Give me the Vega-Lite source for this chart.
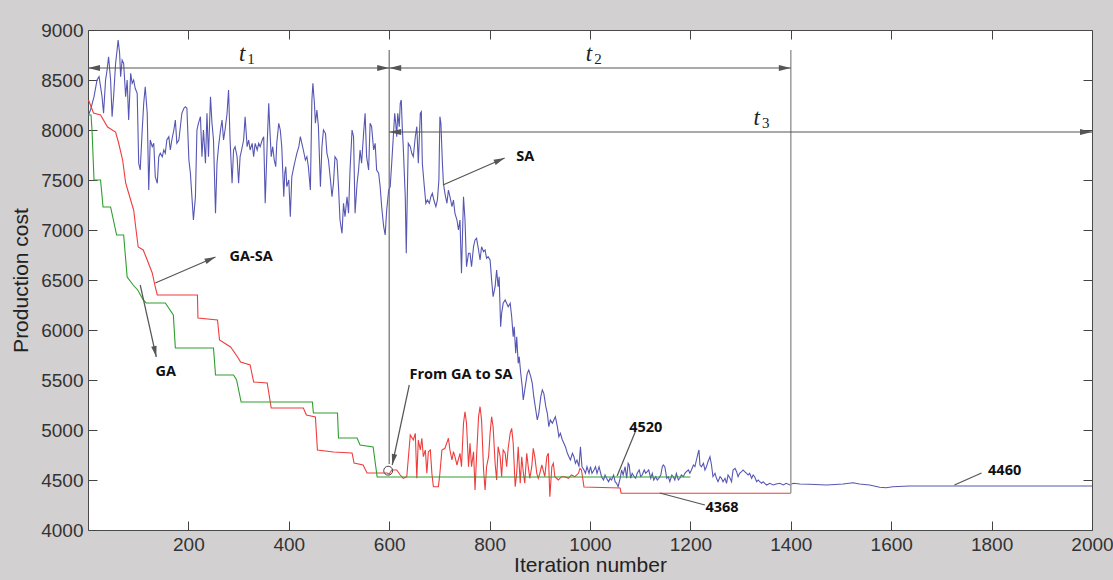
{
"$schema":"https://vega.github.io/schema/vega-lite/v6.json",
"width":1004,"height":500,
"autosize":"none",
"padding":{"left":88,"top":30,"right":21,"bottom":50},
"background":"#d2d0d0",
"config":{"view":{"fill":"white","stroke":"#4a4a4a","strokeWidth":1}},
"datasets":{
"curves":[
{"series":"SA","x":1,"y":8150},{"series":"SA","x":5,"y":8200},{"series":"SA","x":12,"y":8333},{"series":"SA","x":18,"y":8500},{"series":"SA","x":22,"y":8533},{"series":"SA","x":25,"y":8433},{"series":"SA","x":28,"y":8333},{"series":"SA","x":31,"y":8167},{"series":"SA","x":35,"y":8500},{"series":"SA","x":38,"y":8600},{"series":"SA","x":41,"y":8733},{"series":"SA","x":45,"y":8500},{"series":"SA","x":48,"y":8133},{"series":"SA","x":51,"y":8333},{"series":"SA","x":55,"y":8667},{"series":"SA","x":58,"y":8800},{"series":"SA","x":60,"y":8900},{"series":"SA","x":63,"y":8767},{"series":"SA","x":65,"y":8533},{"series":"SA","x":68,"y":8700},{"series":"SA","x":71,"y":8667},{"series":"SA","x":75,"y":8333},{"series":"SA","x":78,"y":8500},{"series":"SA","x":81,"y":8100},{"series":"SA","x":85,"y":8567},{"series":"SA","x":88,"y":8467},{"series":"SA","x":91,"y":8500},{"series":"SA","x":94,"y":8417},{"series":"SA","x":98,"y":8367},{"series":"SA","x":101,"y":7667},{"series":"SA","x":104,"y":7600},{"series":"SA","x":108,"y":8000},{"series":"SA","x":111,"y":8267},{"series":"SA","x":114,"y":8433},{"series":"SA","x":118,"y":8167},{"series":"SA","x":121,"y":7400},{"series":"SA","x":124,"y":7900},{"series":"SA","x":128,"y":7833},{"series":"SA","x":131,"y":7867},{"series":"SA","x":134,"y":7533},{"series":"SA","x":138,"y":7467},{"series":"SA","x":141,"y":7733},{"series":"SA","x":144,"y":7767},{"series":"SA","x":148,"y":7733},{"series":"SA","x":151,"y":7800},{"series":"SA","x":154,"y":7767},{"series":"SA","x":157,"y":7900},{"series":"SA","x":161,"y":7933},{"series":"SA","x":164,"y":7800},{"series":"SA","x":167,"y":7900},{"series":"SA","x":171,"y":8000},{"series":"SA","x":174,"y":8100},{"series":"SA","x":177,"y":7867},{"series":"SA","x":181,"y":7900},{"series":"SA","x":184,"y":8033},{"series":"SA","x":187,"y":8167},{"series":"SA","x":191,"y":8217},{"series":"SA","x":194,"y":8233},{"series":"SA","x":197,"y":8217},{"series":"SA","x":201,"y":7700},{"series":"SA","x":204,"y":7567},{"series":"SA","x":207,"y":7333},{"series":"SA","x":210,"y":7100},{"series":"SA","x":214,"y":7333},{"series":"SA","x":217,"y":8000},{"series":"SA","x":220,"y":8067},{"series":"SA","x":224,"y":8133},{"series":"SA","x":227,"y":7733},{"series":"SA","x":230,"y":8000},{"series":"SA","x":234,"y":7667},{"series":"SA","x":237,"y":8167},{"series":"SA","x":240,"y":7733},{"series":"SA","x":244,"y":8333},{"series":"SA","x":247,"y":8067},{"series":"SA","x":250,"y":7900},{"series":"SA","x":254,"y":7167},{"series":"SA","x":257,"y":7667},{"series":"SA","x":260,"y":7833},{"series":"SA","x":264,"y":8000},{"series":"SA","x":267,"y":8100},{"series":"SA","x":270,"y":7900},{"series":"SA","x":273,"y":8000},{"series":"SA","x":277,"y":8167},{"series":"SA","x":280,"y":8400},{"series":"SA","x":283,"y":7900},{"series":"SA","x":287,"y":7467},{"series":"SA","x":290,"y":7800},{"series":"SA","x":293,"y":7833},{"series":"SA","x":297,"y":7733},{"series":"SA","x":300,"y":7467},{"series":"SA","x":303,"y":7733},{"series":"SA","x":306,"y":7800},{"series":"SA","x":310,"y":7900},{"series":"SA","x":313,"y":8133},{"series":"SA","x":317,"y":7833},{"series":"SA","x":320,"y":7900},{"series":"SA","x":323,"y":7800},{"series":"SA","x":327,"y":7867},{"series":"SA","x":330,"y":7733},{"series":"SA","x":333,"y":7867},{"series":"SA","x":337,"y":7800},{"series":"SA","x":340,"y":7867},{"series":"SA","x":343,"y":7833},{"series":"SA","x":347,"y":7900},{"series":"SA","x":350,"y":7933},{"series":"SA","x":353,"y":7267},{"series":"SA","x":357,"y":7867},{"series":"SA","x":360,"y":8267},{"series":"SA","x":362,"y":8033},{"series":"SA","x":365,"y":7733},{"series":"SA","x":368,"y":7833},{"series":"SA","x":371,"y":7700},{"series":"SA","x":374,"y":7633},{"series":"SA","x":376,"y":7867},{"series":"SA","x":380,"y":8067},{"series":"SA","x":383,"y":8000},{"series":"SA","x":386,"y":7833},{"series":"SA","x":390,"y":7333},{"series":"SA","x":392,"y":7567},{"series":"SA","x":394,"y":7633},{"series":"SA","x":396,"y":7433},{"series":"SA","x":400,"y":7500},{"series":"SA","x":403,"y":7133},{"series":"SA","x":406,"y":7533},{"series":"SA","x":410,"y":7633},{"series":"SA","x":413,"y":7700},{"series":"SA","x":416,"y":7767},{"series":"SA","x":420,"y":7833},{"series":"SA","x":423,"y":7933},{"series":"SA","x":426,"y":7867},{"series":"SA","x":429,"y":7800},{"series":"SA","x":433,"y":7700},{"series":"SA","x":436,"y":7733},{"series":"SA","x":439,"y":7633},{"series":"SA","x":443,"y":7400},{"series":"SA","x":446,"y":8300},{"series":"SA","x":448,"y":8467},{"series":"SA","x":451,"y":8267},{"series":"SA","x":453,"y":8067},{"series":"SA","x":456,"y":8200},{"series":"SA","x":459,"y":8033},{"series":"SA","x":463,"y":7433},{"series":"SA","x":466,"y":7833},{"series":"SA","x":469,"y":8000},{"series":"SA","x":473,"y":7967},{"series":"SA","x":476,"y":7767},{"series":"SA","x":479,"y":7700},{"series":"SA","x":483,"y":7500},{"series":"SA","x":486,"y":7333},{"series":"SA","x":489,"y":7467},{"series":"SA","x":492,"y":7733},{"series":"SA","x":496,"y":7700},{"series":"SA","x":499,"y":7433},{"series":"SA","x":502,"y":7100},{"series":"SA","x":506,"y":6967},{"series":"SA","x":509,"y":7267},{"series":"SA","x":512,"y":7133},{"series":"SA","x":516,"y":7333},{"series":"SA","x":519,"y":7167},{"series":"SA","x":522,"y":7600},{"series":"SA","x":526,"y":8000},{"series":"SA","x":529,"y":7933},{"series":"SA","x":532,"y":7167},{"series":"SA","x":536,"y":7467},{"series":"SA","x":539,"y":7600},{"series":"SA","x":542,"y":7800},{"series":"SA","x":545,"y":7667},{"series":"SA","x":549,"y":7967},{"series":"SA","x":552,"y":8167},{"series":"SA","x":555,"y":7733},{"series":"SA","x":559,"y":7600},{"series":"SA","x":562,"y":8067},{"series":"SA","x":565,"y":8033},{"series":"SA","x":569,"y":7800},{"series":"SA","x":572,"y":7867},{"series":"SA","x":575,"y":7600},{"series":"SA","x":579,"y":7567},{"series":"SA","x":582,"y":7433},{"series":"SA","x":585,"y":7233},{"series":"SA","x":589,"y":7033},{"series":"SA","x":592,"y":6950},{"series":"SA","x":595,"y":7200},{"series":"SA","x":599,"y":7400},{"series":"SA","x":602,"y":7433},{"series":"SA","x":605,"y":7667},{"series":"SA","x":609,"y":8000},{"series":"SA","x":611,"y":8167},{"series":"SA","x":613,"y":8067},{"series":"SA","x":615,"y":7933},{"series":"SA","x":617,"y":8167},{"series":"SA","x":620,"y":8033},{"series":"SA","x":622,"y":8267},{"series":"SA","x":624,"y":8300},{"series":"SA","x":626,"y":8033},{"series":"SA","x":628,"y":7833},{"series":"SA","x":632,"y":7333},{"series":"SA","x":634,"y":6767},{"series":"SA","x":636,"y":7333},{"series":"SA","x":638,"y":7867},{"series":"SA","x":642,"y":7833},{"series":"SA","x":645,"y":7767},{"series":"SA","x":648,"y":7733},{"series":"SA","x":652,"y":7933},{"series":"SA","x":655,"y":8033},{"series":"SA","x":658,"y":7667},{"series":"SA","x":662,"y":8167},{"series":"SA","x":664,"y":8183},{"series":"SA","x":666,"y":7667},{"series":"SA","x":670,"y":7433},{"series":"SA","x":673,"y":7267},{"series":"SA","x":676,"y":7300},{"series":"SA","x":680,"y":7267},{"series":"SA","x":683,"y":7333},{"series":"SA","x":686,"y":7367},{"series":"SA","x":689,"y":7300},{"series":"SA","x":693,"y":7233},{"series":"SA","x":696,"y":7300},{"series":"SA","x":699,"y":7500},{"series":"SA","x":701,"y":8133},{"series":"SA","x":703,"y":8067},{"series":"SA","x":706,"y":7667},{"series":"SA","x":708,"y":7467},{"series":"SA","x":711,"y":7367},{"series":"SA","x":715,"y":7267},{"series":"SA","x":718,"y":7400},{"series":"SA","x":721,"y":7333},{"series":"SA","x":725,"y":7233},{"series":"SA","x":728,"y":7300},{"series":"SA","x":731,"y":7167},{"series":"SA","x":735,"y":7100},{"series":"SA","x":738,"y":7000},{"series":"SA","x":741,"y":7100},{"series":"SA","x":744,"y":6567},{"series":"SA","x":748,"y":7333},{"series":"SA","x":751,"y":7100},{"series":"SA","x":754,"y":6633},{"series":"SA","x":758,"y":6767},{"series":"SA","x":761,"y":6767},{"series":"SA","x":764,"y":6633},{"series":"SA","x":768,"y":6833},{"series":"SA","x":771,"y":6900},{"series":"SA","x":774,"y":6917},{"series":"SA","x":778,"y":6800},{"series":"SA","x":781,"y":6700},{"series":"SA","x":784,"y":6833},{"series":"SA","x":788,"y":6783},{"series":"SA","x":791,"y":6800},{"series":"SA","x":794,"y":6717},{"series":"SA","x":797,"y":6733},{"series":"SA","x":801,"y":6700},{"series":"SA","x":804,"y":6500},{"series":"SA","x":807,"y":6333},{"series":"SA","x":811,"y":6433},{"series":"SA","x":814,"y":6600},{"series":"SA","x":817,"y":6433},{"series":"SA","x":819,"y":6533},{"series":"SA","x":822,"y":6033},{"series":"SA","x":824,"y":6167},{"series":"SA","x":827,"y":6267},{"series":"SA","x":831,"y":6300},{"series":"SA","x":834,"y":6267},{"series":"SA","x":837,"y":6233},{"series":"SA","x":841,"y":6267},{"series":"SA","x":844,"y":6133},{"series":"SA","x":847,"y":5933},{"series":"SA","x":849,"y":6033},{"series":"SA","x":852,"y":5767},{"series":"SA","x":854,"y":5933},{"series":"SA","x":857,"y":5667},{"series":"SA","x":859,"y":5733},{"series":"SA","x":862,"y":5567},{"series":"SA","x":865,"y":5433},{"series":"SA","x":867,"y":5300},{"series":"SA","x":869,"y":5367},{"series":"SA","x":872,"y":5467},{"series":"SA","x":875,"y":5567},{"series":"SA","x":878,"y":5600},{"series":"SA","x":882,"y":5533},{"series":"SA","x":885,"y":5467},{"series":"SA","x":888,"y":5333},{"series":"SA","x":892,"y":5200},{"series":"SA","x":895,"y":5100},{"series":"SA","x":898,"y":5167},{"series":"SA","x":902,"y":5333},{"series":"SA","x":905,"y":5400},{"series":"SA","x":908,"y":5367},{"series":"SA","x":912,"y":5233},{"series":"SA","x":915,"y":5167},{"series":"SA","x":918,"y":5033},{"series":"SA","x":921,"y":5100},{"series":"SA","x":925,"y":5067},{"series":"SA","x":928,"y":5100},{"series":"SA","x":931,"y":5133},{"series":"SA","x":935,"y":5033},{"series":"SA","x":938,"y":4933},{"series":"SA","x":941,"y":4967},{"series":"SA","x":945,"y":4900},{"series":"SA","x":948,"y":4867},{"series":"SA","x":951,"y":4833},{"series":"SA","x":955,"y":4767},{"series":"SA","x":958,"y":4733},{"series":"SA","x":961,"y":4700},{"series":"SA","x":965,"y":4767},{"series":"SA","x":968,"y":4733},{"series":"SA","x":971,"y":4667},{"series":"SA","x":974,"y":4700},{"series":"SA","x":978,"y":4633},{"series":"SA","x":981,"y":4833},{"series":"SA","x":984,"y":4633},{"series":"SA","x":988,"y":4600},{"series":"SA","x":991,"y":4567},{"series":"SA","x":994,"y":4633},{"series":"SA","x":998,"y":4567},{"series":"SA","x":1001,"y":4633},{"series":"SA","x":1004,"y":4567},{"series":"SA","x":1008,"y":4600},{"series":"SA","x":1011,"y":4633},{"series":"SA","x":1014,"y":4567},{"series":"SA","x":1018,"y":4633},{"series":"SA","x":1023,"y":4533},{"series":"SA","x":1027,"y":4500},{"series":"SA","x":1030,"y":4550},{"series":"SA","x":1033,"y":4517},{"series":"SA","x":1037,"y":4483},{"series":"SA","x":1040,"y":4517},{"series":"SA","x":1043,"y":4500},{"series":"SA","x":1047,"y":4550},{"series":"SA","x":1050,"y":4483},{"series":"SA","x":1053,"y":4467},{"series":"SA","x":1056,"y":4433},{"series":"SA","x":1060,"y":4517},{"series":"SA","x":1063,"y":4600},{"series":"SA","x":1066,"y":4550},{"series":"SA","x":1070,"y":4633},{"series":"SA","x":1073,"y":4517},{"series":"SA","x":1076,"y":4667},{"series":"SA","x":1078,"y":4650},{"series":"SA","x":1081,"y":4517},{"series":"SA","x":1084,"y":4567},{"series":"SA","x":1088,"y":4533},{"series":"SA","x":1091,"y":4517},{"series":"SA","x":1094,"y":4567},{"series":"SA","x":1098,"y":4600},{"series":"SA","x":1101,"y":4533},{"series":"SA","x":1104,"y":4550},{"series":"SA","x":1108,"y":4600},{"series":"SA","x":1111,"y":4567},{"series":"SA","x":1114,"y":4583},{"series":"SA","x":1117,"y":4600},{"series":"SA","x":1121,"y":4517},{"series":"SA","x":1124,"y":4567},{"series":"SA","x":1127,"y":4500},{"series":"SA","x":1131,"y":4533},{"series":"SA","x":1134,"y":4500},{"series":"SA","x":1137,"y":4517},{"series":"SA","x":1141,"y":4550},{"series":"SA","x":1144,"y":4633},{"series":"SA","x":1146,"y":4650},{"series":"SA","x":1149,"y":4633},{"series":"SA","x":1153,"y":4517},{"series":"SA","x":1156,"y":4533},{"series":"SA","x":1159,"y":4483},{"series":"SA","x":1163,"y":4550},{"series":"SA","x":1166,"y":4533},{"series":"SA","x":1169,"y":4500},{"series":"SA","x":1172,"y":4567},{"series":"SA","x":1176,"y":4500},{"series":"SA","x":1179,"y":4517},{"series":"SA","x":1182,"y":4550},{"series":"SA","x":1186,"y":4533},{"series":"SA","x":1189,"y":4567},{"series":"SA","x":1192,"y":4583},{"series":"SA","x":1196,"y":4600},{"series":"SA","x":1199,"y":4567},{"series":"SA","x":1202,"y":4600},{"series":"SA","x":1206,"y":4650},{"series":"SA","x":1209,"y":4633},{"series":"SA","x":1212,"y":4700},{"series":"SA","x":1216,"y":4783},{"series":"SA","x":1217,"y":4800},{"series":"SA","x":1219,"y":4650},{"series":"SA","x":1222,"y":4633},{"series":"SA","x":1226,"y":4667},{"series":"SA","x":1229,"y":4600},{"series":"SA","x":1232,"y":4633},{"series":"SA","x":1235,"y":4683},{"series":"SA","x":1239,"y":4733},{"series":"SA","x":1242,"y":4650},{"series":"SA","x":1245,"y":4533},{"series":"SA","x":1249,"y":4567},{"series":"SA","x":1252,"y":4517},{"series":"SA","x":1255,"y":4483},{"series":"SA","x":1259,"y":4533},{"series":"SA","x":1262,"y":4517},{"series":"SA","x":1265,"y":4483},{"series":"SA","x":1269,"y":4517},{"series":"SA","x":1272,"y":4467},{"series":"SA","x":1275,"y":4550},{"series":"SA","x":1279,"y":4517},{"series":"SA","x":1282,"y":4483},{"series":"SA","x":1285,"y":4600},{"series":"SA","x":1289,"y":4617},{"series":"SA","x":1292,"y":4583},{"series":"SA","x":1295,"y":4533},{"series":"SA","x":1298,"y":4567},{"series":"SA","x":1302,"y":4583},{"series":"SA","x":1305,"y":4600},{"series":"SA","x":1308,"y":4583},{"series":"SA","x":1312,"y":4567},{"series":"SA","x":1315,"y":4550},{"series":"SA","x":1318,"y":4567},{"series":"SA","x":1322,"y":4517},{"series":"SA","x":1325,"y":4550},{"series":"SA","x":1328,"y":4533},{"series":"SA","x":1332,"y":4483},{"series":"SA","x":1335,"y":4500},{"series":"SA","x":1338,"y":4483},{"series":"SA","x":1342,"y":4467},{"series":"SA","x":1345,"y":4483},{"series":"SA","x":1348,"y":4467},{"series":"SA","x":1352,"y":4450},{"series":"SA","x":1358,"y":4467},{"series":"SA","x":1365,"y":4450},{"series":"SA","x":1371,"y":4460},{"series":"SA","x":1378,"y":4467},{"series":"SA","x":1385,"y":4450},{"series":"SA","x":1391,"y":4467},{"series":"SA","x":1398,"y":4450},{"series":"SA","x":1405,"y":4467},{"series":"SA","x":1418,"y":4460},{"series":"SA","x":1437,"y":4457},{"series":"SA","x":1471,"y":4450},{"series":"SA","x":1504,"y":4460},{"series":"SA","x":1524,"y":4473},{"series":"SA","x":1537,"y":4460},{"series":"SA","x":1557,"y":4450},{"series":"SA","x":1577,"y":4427},{"series":"SA","x":1590,"y":4423},{"series":"SA","x":1603,"y":4433},{"series":"SA","x":1636,"y":4440},{"series":"SA","x":1700,"y":4440},{"series":"SA","x":1800,"y":4440},{"series":"SA","x":2000,"y":4440},
{"series":"GA-SA","x":1,"y":8300},{"series":"GA-SA","x":11,"y":8170},{"series":"GA-SA","x":25,"y":8150},{"series":"GA-SA","x":39,"y":8030},{"series":"GA-SA","x":55,"y":7980},{"series":"GA-SA","x":61,"y":7870},{"series":"GA-SA","x":69,"y":7700},{"series":"GA-SA","x":75,"y":7470},{"series":"GA-SA","x":85,"y":7300},{"series":"GA-SA","x":91,"y":7200},{"series":"GA-SA","x":95,"y":7030},{"series":"GA-SA","x":100,"y":6830},{"series":"GA-SA","x":110,"y":6800},{"series":"GA-SA","x":118,"y":6700},{"series":"GA-SA","x":128,"y":6570},{"series":"GA-SA","x":134,"y":6430},{"series":"GA-SA","x":138,"y":6350},{"series":"GA-SA","x":218,"y":6350},{"series":"GA-SA","x":219,"y":6120},{"series":"GA-SA","x":258,"y":6100},{"series":"GA-SA","x":262,"y":5900},{"series":"GA-SA","x":284,"y":5830},{"series":"GA-SA","x":298,"y":5730},{"series":"GA-SA","x":304,"y":5680},{"series":"GA-SA","x":323,"y":5650},{"series":"GA-SA","x":330,"y":5480},{"series":"GA-SA","x":357,"y":5470},{"series":"GA-SA","x":365,"y":5220},{"series":"GA-SA","x":429,"y":5220},{"series":"GA-SA","x":435,"y":5150},{"series":"GA-SA","x":453,"y":5130},{"series":"GA-SA","x":457,"y":4800},{"series":"GA-SA","x":489,"y":4780},{"series":"GA-SA","x":526,"y":4770},{"series":"GA-SA","x":530,"y":4670},{"series":"GA-SA","x":548,"y":4650},{"series":"GA-SA","x":556,"y":4570},{"series":"GA-SA","x":596,"y":4570},{"series":"GA-SA","x":600,"y":4560},{"series":"GA-SA","x":605,"y":4600},{"series":"GA-SA","x":615,"y":4600},{"series":"GA-SA","x":622,"y":4550},{"series":"GA-SA","x":628,"y":4517},{"series":"GA-SA","x":635,"y":4533},{"series":"GA-SA","x":642,"y":4950},{"series":"GA-SA","x":648,"y":4900},{"series":"GA-SA","x":652,"y":4967},{"series":"GA-SA","x":655,"y":4517},{"series":"GA-SA","x":658,"y":4900},{"series":"GA-SA","x":662,"y":4800},{"series":"GA-SA","x":665,"y":4917},{"series":"GA-SA","x":668,"y":4733},{"series":"GA-SA","x":672,"y":4800},{"series":"GA-SA","x":675,"y":4567},{"series":"GA-SA","x":678,"y":4783},{"series":"GA-SA","x":682,"y":4800},{"series":"GA-SA","x":685,"y":4567},{"series":"GA-SA","x":688,"y":4433},{"series":"GA-SA","x":698,"y":4433},{"series":"GA-SA","x":701,"y":4567},{"series":"GA-SA","x":705,"y":4800},{"series":"GA-SA","x":711,"y":4817},{"series":"GA-SA","x":718,"y":4917},{"series":"GA-SA","x":721,"y":4800},{"series":"GA-SA","x":725,"y":4700},{"series":"GA-SA","x":728,"y":4783},{"series":"GA-SA","x":731,"y":4733},{"series":"GA-SA","x":735,"y":4650},{"series":"GA-SA","x":741,"y":4767},{"series":"GA-SA","x":744,"y":4633},{"series":"GA-SA","x":748,"y":5067},{"series":"GA-SA","x":751,"y":5183},{"series":"GA-SA","x":754,"y":5067},{"series":"GA-SA","x":758,"y":4633},{"series":"GA-SA","x":761,"y":4867},{"series":"GA-SA","x":764,"y":4633},{"series":"GA-SA","x":768,"y":4783},{"series":"GA-SA","x":771,"y":4400},{"series":"GA-SA","x":774,"y":4733},{"series":"GA-SA","x":778,"y":5133},{"series":"GA-SA","x":781,"y":5233},{"series":"GA-SA","x":784,"y":5100},{"series":"GA-SA","x":788,"y":4600},{"series":"GA-SA","x":791,"y":4400},{"series":"GA-SA","x":794,"y":4633},{"series":"GA-SA","x":798,"y":4733},{"series":"GA-SA","x":801,"y":4967},{"series":"GA-SA","x":804,"y":5133},{"series":"GA-SA","x":807,"y":5033},{"series":"GA-SA","x":811,"y":4667},{"series":"GA-SA","x":814,"y":4500},{"series":"GA-SA","x":817,"y":4833},{"series":"GA-SA","x":821,"y":4733},{"series":"GA-SA","x":824,"y":4533},{"series":"GA-SA","x":827,"y":4800},{"series":"GA-SA","x":831,"y":4767},{"series":"GA-SA","x":834,"y":4633},{"series":"GA-SA","x":837,"y":4817},{"series":"GA-SA","x":841,"y":4967},{"series":"GA-SA","x":844,"y":5017},{"series":"GA-SA","x":847,"y":4867},{"series":"GA-SA","x":851,"y":4433},{"series":"GA-SA","x":854,"y":4567},{"series":"GA-SA","x":857,"y":4833},{"series":"GA-SA","x":861,"y":4467},{"series":"GA-SA","x":864,"y":4733},{"series":"GA-SA","x":867,"y":4583},{"series":"GA-SA","x":870,"y":4467},{"series":"GA-SA","x":874,"y":4767},{"series":"GA-SA","x":877,"y":4633},{"series":"GA-SA","x":880,"y":4517},{"series":"GA-SA","x":884,"y":4633},{"series":"GA-SA","x":887,"y":4817},{"series":"GA-SA","x":890,"y":4733},{"series":"GA-SA","x":894,"y":4567},{"series":"GA-SA","x":897,"y":4517},{"series":"GA-SA","x":900,"y":4567},{"series":"GA-SA","x":904,"y":4650},{"series":"GA-SA","x":910,"y":4533},{"series":"GA-SA","x":914,"y":4733},{"series":"GA-SA","x":917,"y":4767},{"series":"GA-SA","x":920,"y":4333},{"series":"GA-SA","x":924,"y":4633},{"series":"GA-SA","x":927,"y":4667},{"series":"GA-SA","x":930,"y":4533},{"series":"GA-SA","x":937,"y":4500},{"series":"GA-SA","x":943,"y":4533},{"series":"GA-SA","x":950,"y":4533},{"series":"GA-SA","x":957,"y":4517},{"series":"GA-SA","x":963,"y":4550},{"series":"GA-SA","x":970,"y":4533},{"series":"GA-SA","x":977,"y":4567},{"series":"GA-SA","x":980,"y":4617},{"series":"GA-SA","x":983,"y":4600},{"series":"GA-SA","x":986,"y":4500},{"series":"GA-SA","x":988,"y":4430},{"series":"GA-SA","x":1060,"y":4420},{"series":"GA-SA","x":1062,"y":4368},{"series":"GA-SA","x":1400,"y":4368},
{"series":"GA","x":1,"y":8150},{"series":"GA","x":6,"y":8150},{"series":"GA","x":8,"y":8000},{"series":"GA","x":12,"y":7500},{"series":"GA","x":25,"y":7500},{"series":"GA","x":30,"y":7230},{"series":"GA","x":45,"y":7230},{"series":"GA","x":57,"y":6950},{"series":"GA","x":71,"y":6950},{"series":"GA","x":78,"y":6530},{"series":"GA","x":90,"y":6450},{"series":"GA","x":99,"y":6400},{"series":"GA","x":110,"y":6300},{"series":"GA","x":116,"y":6270},{"series":"GA","x":154,"y":6270},{"series":"GA","x":170,"y":6150},{"series":"GA","x":174,"y":5820},{"series":"GA","x":250,"y":5820},{"series":"GA","x":254,"y":5550},{"series":"GA","x":290,"y":5550},{"series":"GA","x":296,"y":5500},{"series":"GA","x":305,"y":5280},{"series":"GA","x":447,"y":5280},{"series":"GA","x":449,"y":5170},{"series":"GA","x":497,"y":5170},{"series":"GA","x":499,"y":4920},{"series":"GA","x":536,"y":4920},{"series":"GA","x":542,"y":4850},{"series":"GA","x":568,"y":4830},{"series":"GA","x":576,"y":4530},{"series":"GA","x":1200,"y":4530}
],
"guides":[
{"kind":"v600","x":600,"y":8800,"x2":600,"y2":4660},
{"kind":"v1400","x":1400,"y":8800,"x2":1400,"y2":4368},
{"kind":"arrow","x":0,"y":8620,"x2":600,"y2":8620},
{"kind":"arrow","x":600,"y":8620,"x2":1400,"y2":8620},
{"kind":"arrow","x":600,"y":7980,"x2":2000,"y2":7980},
{"kind":"arrow","x":707,"y":7450,"x2":830,"y2":7720},
{"kind":"arrow","x":134,"y":6470,"x2":254,"y2":6730},
{"kind":"arrow","x":104,"y":6450,"x2":136,"y2":5730},
{"kind":"arrow","x":640,"y":5450,"x2":606,"y2":4650},
{"kind":"arrow","x":1054,"y":4540,"x2":1090,"y2":4980},
{"kind":"arrow","x":1139,"y":4370,"x2":1229,"y2":4250},
{"kind":"arrow","x":1726,"y":4450,"x2":1780,"y2":4570}
],
"heads":[
{"kind":"left","x":0,"y":8620},{"kind":"right","x":600,"y":8620},
{"kind":"left","x":600,"y":8620},{"kind":"right","x":1400,"y":8620},
{"kind":"left","x":600,"y":7980},{"kind":"right","x":2000,"y":7980},
{"kind":"up","x":830,"y":7720},{"kind":"up","x":254,"y":6730},
{"kind":"ga","x":136,"y":5730},{"kind":"from","x":606,"y":4650}
],
"marker":[{"x":598,"y":4593}],
"labels":[
{"kind":"bold","label":"SA","x":871,"y":7730},
{"kind":"bold","label":"GA-SA","x":325,"y":6730},
{"kind":"bold","label":"GA","x":155,"y":5580},
{"kind":"bold","label":"From GA to SA","x":743,"y":5550},
{"kind":"bold","label":"4520","x":1111,"y":5020},
{"kind":"bold","label":"4368","x":1263,"y":4220},
{"kind":"bold","label":"4460","x":1826,"y":4590},
{"kind":"t","label":"t","x":307,"y":8760},
{"kind":"t","label":"t","x":998,"y":8760},
{"kind":"t","label":"t","x":1332,"y":8120},
{"kind":"sub","label":"1","x":307,"y":8760},
{"kind":"sub","label":"2","x":998,"y":8760},
{"kind":"sub","label":"3","x":1332,"y":8120}
]
},
"encoding":{
"x":{"field":"x","type":"quantitative","scale":{"domain":[0,2000],"nice":false,"zero":false},"axis":null},
"y":{"field":"y","type":"quantitative","scale":{"domain":[4000,9000],"nice":false,"zero":false},"axis":null}
},
"layer":[
{"data":{"name":"curves"},"transform":[{"filter":"datum.series === 'SA'"}],
"mark":{"type":"line","color":"#5656b4","strokeWidth":1.1},
"encoding":{
"x":{"field":"x","type":"quantitative","scale":{"domain":[0,2000],"nice":false,"zero":false},
"axis":{"orient":"bottom","values":[200,400,600,800,1000,1200,1400,1600,1800,2000],"format":"d","tickSize":-9,"tickColor":"#444","tickWidth":1,"domain":false,"grid":false,"labelPadding":14,"labelFlush":false,"labelOverlap":false,"labelFont":"Liberation Sans","labelFontSize":19,"labelColor":"#333","title":"Iteration number","titleFont":"Liberation Sans","titleFontSize":21,"titleFontWeight":"normal","titleColor":"#222","titlePadding":0}},
"y":{"field":"y","type":"quantitative","scale":{"domain":[4000,9000],"nice":false,"zero":false},
"axis":{"orient":"left","values":[4000,4500,5000,5500,6000,6500,7000,7500,8000,8500,9000],"format":"d","tickSize":-9,"tickColor":"#444","tickWidth":1,"domain":false,"grid":false,"labelPadding":14,"labelFlush":false,"labelOverlap":false,"labelFont":"Liberation Sans","labelFontSize":19,"labelColor":"#333","title":"Production cost","titleFont":"Liberation Sans","titleFontSize":21,"titleFontWeight":"normal","titleColor":"#222","titlePadding":9}}
}},
{"data":{"name":"curves"},"transform":[{"filter":"datum.series === 'GA-SA'"}],
"mark":{"type":"line","color":"#f03c3c","strokeWidth":1.1}},
{"data":{"name":"curves"},"transform":[{"filter":"datum.series === 'GA'"}],
"mark":{"type":"line","color":"#2e9e2e","strokeWidth":1.1},
"encoding":{
"x":{"field":"x","type":"quantitative","scale":{"domain":[0,2000],"nice":false,"zero":false},
"axis":{"orient":"top","values":[200,400,600,800,1000,1200,1400,1600,1800,2000],"tickSize":-9,"tickColor":"#444","domain":false,"grid":false,"labels":false,"title":null}},
"y":{"field":"y","type":"quantitative","scale":{"domain":[4000,9000],"nice":false,"zero":false},
"axis":{"orient":"right","values":[4500,5000,5500,6000,6500,7000,7500,8000,8500],"tickSize":-9,"tickColor":"#444","domain":false,"grid":false,"labels":false,"title":null}}
}},
{"data":{"name":"guides"},"transform":[{"filter":"datum.kind === 'v600'"}],
"mark":{"type":"rule","color":"#6e6e6e","strokeWidth":1.2},
"encoding":{"x2":{"field":"x2"},"y2":{"field":"y2"}}},
{"data":{"name":"guides"},"transform":[{"filter":"datum.kind === 'v1400'"}],
"mark":{"type":"rule","color":"#a2a2a2","strokeWidth":1.6},
"encoding":{"x2":{"field":"x2"},"y2":{"field":"y2"}}},
{"data":{"name":"guides"},"transform":[{"filter":"datum.kind === 'arrow'"}],
"mark":{"type":"rule","color":"#555555","strokeWidth":1.2},
"encoding":{"x2":{"field":"x2"},"y2":{"field":"y2"}}},
{"data":{"name":"marker"},
"mark":{"type":"point","shape":"circle","filled":false,"color":"#444","strokeWidth":1,"size":80,"opacity":1}},
{"data":{"name":"heads"},"transform":[{"filter":"datum.kind === 'right'"}],
"mark":{"type":"point","shape":"M0,0L-2,-0.5L-2,0.5Z","filled":true,"color":"#555","size":144,"opacity":1,"strokeWidth":0,"angle":0}},
{"data":{"name":"heads"},"transform":[{"filter":"datum.kind === 'left'"}],
"mark":{"type":"point","shape":"M0,0L-2,-0.5L-2,0.5Z","filled":true,"color":"#555","size":144,"opacity":1,"strokeWidth":0,"angle":180}},
{"data":{"name":"heads"},"transform":[{"filter":"datum.kind === 'up'"}],
"mark":{"type":"point","shape":"M0,0L-2,-0.5L-2,0.5Z","filled":true,"color":"#555","size":121,"opacity":1,"strokeWidth":0,"angle":336.5}},
{"data":{"name":"heads"},"transform":[{"filter":"datum.kind === 'ga'"}],
"mark":{"type":"point","shape":"M0,0L-2,-0.5L-2,0.5Z","filled":true,"color":"#555","size":121,"opacity":1,"strokeWidth":0,"angle":77.5}},
{"data":{"name":"heads"},"transform":[{"filter":"datum.kind === 'from'"}],
"mark":{"type":"point","shape":"M0,0L-2,-0.5L-2,0.5Z","filled":true,"color":"#555","size":121,"opacity":1,"strokeWidth":0,"angle":102}},
{"data":{"name":"labels"},"transform":[{"filter":"datum.kind === 'bold'"}],
"mark":{"type":"text","font":"Open Sans","fontWeight":"bold","fontSize":14.5,"color":"#111","align":"center","baseline":"middle"},
"encoding":{"text":{"field":"label"}}},
{"data":{"name":"labels"},"transform":[{"filter":"datum.kind === 't'"}],
"mark":{"type":"text","font":"Liberation Serif","fontStyle":"italic","fontSize":23,"color":"#222","align":"center","baseline":"middle"},
"encoding":{"text":{"field":"label"}}},
{"data":{"name":"labels"},"transform":[{"filter":"datum.kind === 'sub'"}],
"mark":{"type":"text","font":"Liberation Serif","fontSize":15,"color":"#222","align":"center","baseline":"middle","dx":9,"dy":5},
"encoding":{"text":{"field":"label"}}}
],
"resolve":{"axis":{"x":"independent","y":"independent"}}
}
